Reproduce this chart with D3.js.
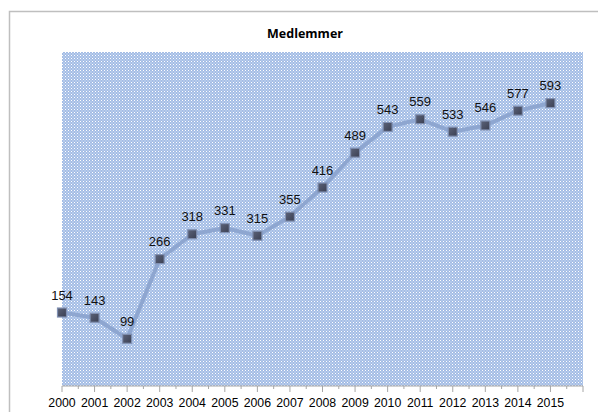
<!DOCTYPE html>
<html>
<head>
<meta charset="utf-8">
<script src="https://cdn.jsdelivr.net/npm/d3@7"></script>
<style>
  body { margin: 0; background: #fff; }
  svg { display: block; }
</style>
</head>
<body>
<svg id="chart" width="598" height="412"></svg>
<script>
const years = ["2000","2001","2002","2003","2004","2005","2006","2007","2008","2009","2010","2011","2012","2013","2014","2015"]
const members = [154,143,99,266,318,331,315,355,416,489,543,559,533,546,577,593]
const chartTitle = "Medlemmer"

const svg = d3.select("#chart"),
    margin = {top: 52, right: 15, bottom: 26, left: 62},
    width = 583 - margin.left,
    height = 386 - margin.top

// chart frame (cropped at right and bottom like the original)
svg.append("rect")
    .attr("x", 9.5).attr("y", 11.5)
    .attr("width", 620).attr("height", 430)
    .attr("fill", "#fff")
    .attr("stroke", "#bfbfbf")
    .attr("stroke-width", 1.5)

let defs = svg.append("defs")
let pat = defs.append("pattern")
    .attr("id", "dots")
    .attr("patternUnits", "userSpaceOnUse")
    .attr("width", 3).attr("height", 3)
pat.append("rect").attr("width", 3).attr("height", 3).attr("fill", "#a3bce5")
pat.append("rect").attr("width", 1).attr("height", 1).attr("fill", "#ffffff")
pat.append("rect").attr("x", 1.5).attr("y", 1.5).attr("width", 1).attr("height", 1).attr("fill", "#e8effa")

let grad = defs.append("linearGradient").attr("id", "marker")
    .attr("x1", 0).attr("y1", 0).attr("x2", 1).attr("y2", 1)
grad.append("stop").attr("offset", "0%").attr("stop-color", "#5c6379")
grad.append("stop").attr("offset", "100%").attr("stop-color", "#3a3f52")

let g = svg.append("g").attr("transform", "translate(" + margin.left + "," + margin.top + ")")

let x = d3.scaleLinear().domain([0, years.length]).range([0, width])
let y = d3.scaleLinear().domain([0, 700]).range([height, 0])

g.append("rect")
    .attr("width", width).attr("height", height)
    .attr("fill", "url(#dots)")

svg.append("text")
    .attr("x", 305).attr("y", 38)
    .attr("text-anchor", "middle")
    .style("font-family", "'Open Sans', sans-serif")
    .style("font-weight", "bold")
    .style("font-size", "12.5px")
    .text(chartTitle)

// x axis with major ticks on categories and minor ticks in between
let ticks = d3.range(0, years.length + 1)
let xAxis = g.append("g")
    .attr("transform", "translate(0," + height + ")")
xAxis.append("line")
    .attr("x1", 0).attr("x2", width)
    .attr("stroke", "#a6a6a6")
xAxis.selectAll(".major").data(ticks).enter().append("line")
    .attr("x1", d => x(d)).attr("x2", d => x(d))
    .attr("y1", 0).attr("y2", 6)
    .attr("stroke", "#a6a6a6")
xAxis.selectAll(".minor").data(ticks.slice(0, -1)).enter().append("line")
    .attr("x1", d => x(d + 0.5)).attr("x2", d => x(d + 0.5))
    .attr("y1", 0).attr("y2", 3)
    .attr("stroke", "#a6a6a6")
xAxis.selectAll(".lbl").data(years).enter().append("text")
    .attr("x", (d, i) => x(i))
    .attr("y", 21)
    .attr("text-anchor", "middle")
    .style("font-family", "'Liberation Sans', Arial, sans-serif")
    .style("font-size", "12.3px")
    .attr("fill", "#000")
    .text(d => d)

let line = d3.line()
    .x((d, i) => x(i))
    .y(d => y(d))

g.append("path")
    .attr("d", line(members))
    .attr("fill", "none")
    .attr("stroke", "#8ea6d0")
    .attr("stroke-width", 4)
    .attr("stroke-linejoin", "round")

g.selectAll(".pt").data(members).enter().append("rect")
    .attr("x", (d, i) => x(i) - 4.5)
    .attr("y", d => y(d) - 4.5)
    .attr("width", 9).attr("height", 9)
    .attr("fill", "url(#marker)")
    .attr("stroke", "#8191b3")
    .attr("stroke-width", 1.2)

g.selectAll(".val").data(members).enter().append("text")
    .attr("x", (d, i) => x(i))
    .attr("y", d => y(d) - 13)
    .attr("text-anchor", "middle")
    .style("font-family", "'Liberation Sans', Arial, sans-serif")
    .style("font-size", "13px")
    .attr("fill", "#111")
    .text(d => d)
</script>
</body>
</html>
